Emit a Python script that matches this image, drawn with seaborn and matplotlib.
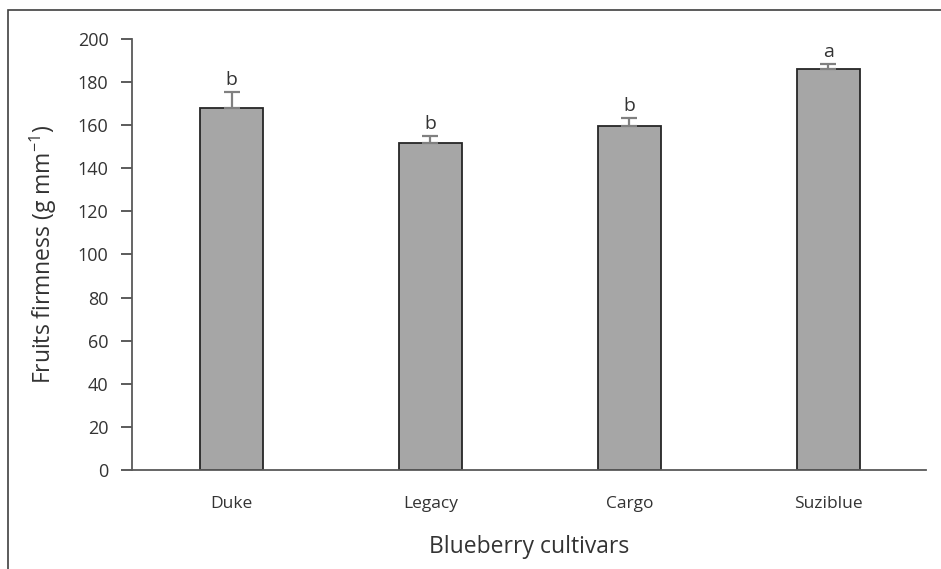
import matplotlib
matplotlib.use("Agg")
import matplotlib.pyplot as plt
from matplotlib.patches import Rectangle
import seaborn as sns
import pandas as pd

cultivars = ["Duke", "Legacy", "Cargo", "Suziblue"]
firmness = [168.0, 151.8, 159.6, 186.2]
std_err = [7.6, 3.4, 3.8, 2.2]
letters = ["b", "b", "b", "a"]

sns.set_style("white")
plt.rcParams["font.family"] = ["Open Sans", "DejaVu Sans"]

df = pd.DataFrame({"cultivar": cultivars, "firmness": firmness})

fig = plt.figure(figsize=(9.41, 5.69), dpi=100)
ax = fig.add_axes([0.1403, 0.174, 0.8437, 0.7575])

sns.barplot(data=df, x="cultivar", y="firmness", color="#a6a6a6",
            saturation=1, width=0.32, edgecolor="#262626", linewidth=1.3,
            errorbar=None, ax=ax)

ax.errorbar(range(len(cultivars)), firmness,
            yerr=[[0] * len(std_err), std_err], fmt="none",
            ecolor="#808080", elinewidth=1.6, capsize=6, capthick=1.6, zorder=1)

for i, (v, e, s) in enumerate(zip(firmness, std_err, letters)):
    ax.text(i, v + e + 1.2, s, ha="center", va="bottom", fontsize=14,
            color="#333333")

ax.set_xlim(-0.5, 3.49)
ax.set_ylim(0, 200)
ax.set_yticks(range(0, 201, 20))
ax.tick_params(axis="y", direction="out", length=8, width=1.2, color="#404040",
               labelsize=13, labelcolor="#333333", left=True, pad=9)
ax.tick_params(axis="x", length=0, labelsize=12.5, labelcolor="#333333", pad=19)

for side in ["top", "right"]:
    ax.spines[side].set_visible(False)
for side in ["left", "bottom"]:
    ax.spines[side].set_color("#595959")
    ax.spines[side].set_linewidth(1.3)

ax.set_xlabel("Blueberry cultivars", fontsize=16.5, color="#333333", labelpad=16)
ax.set_ylabel("Fruits firmness (g mm$^{\\mathregular{-1}}$)", fontsize=16.5,
              color="#333333", labelpad=13)

# outer frame around the figure
fig.patches.append(Rectangle((0.0085, -0.5), 2.0, 0.5 + 0.9824,
                             transform=fig.transFigure, fill=False,
                             edgecolor="#404040", linewidth=1.2))

fig.savefig("out.png", dpi=100)
